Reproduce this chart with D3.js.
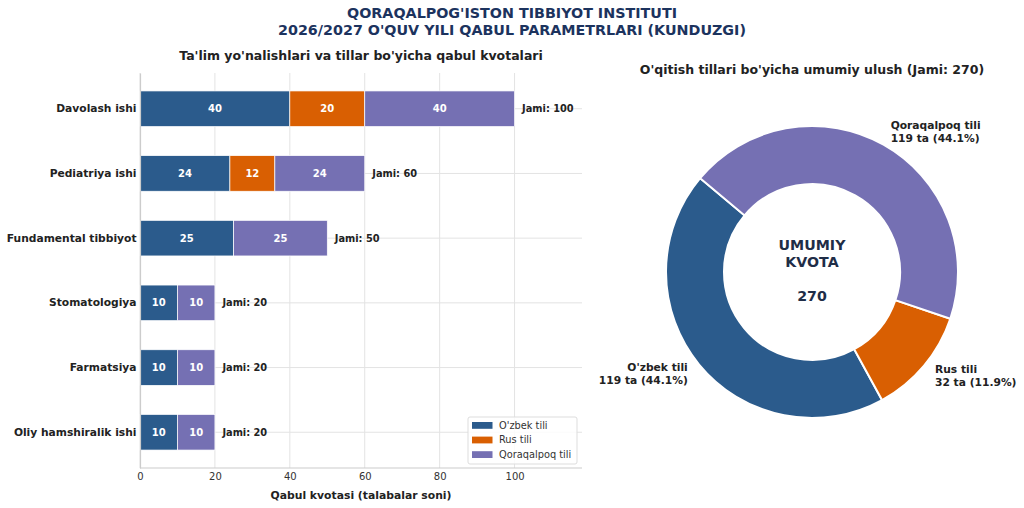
<!DOCTYPE html>
<html>
<head>
<meta charset="utf-8">
<script src="https://cdn.jsdelivr.net/npm/d3@7"></script>
<style>
  body { margin: 0; background: #fff; }
  svg { font-family: "DejaVu Sans", sans-serif; }
</style>
</head>
<body>
<figure style="margin:0"></figure>
<script>
(() => {

  ////////////////////////////////////
  ///////////// Data /////////////////
  ////////////////////////////////////

  const categories = ["Davolash ishi", "Pediatriya ishi", "Fundamental tibbiyot",
    "Stomatologiya", "Farmatsiya", "Oliy hamshiralik ishi"]
  const languages = ["O'zbek tili", "Rus tili", "Qoraqalpoq tili"]
  const uzbekValues = [40, 24, 25, 10, 10, 10]
  const russianValues = [20, 12, 0, 0, 0, 0]
  const karakalpakValues = [40, 24, 25, 10, 10, 10]
  const xTicks = [0, 20, 40, 60, 80, 100]
  const colors = ["#2b5b8c", "#d95f02", "#7570b3"]

  const svgWidth = 1024
  const svgHeight = 508

  const svg = d3.select('figure')
    .append('svg')
    .attr('width', svgWidth)
    .attr('height', svgHeight)

  // titles
  svg.append('text')
    .attr('x', 512).attr('y', 18)
    .attr('text-anchor', 'middle')
    .style('font-size', '14.3px').style('font-weight', 'bold')
    .style('fill', '#1c335e')
    .text("QORAQALPOG'ISTON TIBBIYOT INSTITUTI")
  svg.append('text')
    .attr('x', 512).attr('y', 34.5)
    .attr('text-anchor', 'middle')
    .style('font-size', '14.3px').style('font-weight', 'bold')
    .style('fill', '#1c335e')
    .text("2026/2027 O'QUV YILI QABUL PARAMETRLARI (KUNDUZGI)")

  ////////////////////////////////////
  ///////// Bar chart ////////////////
  ////////////////////////////////////

  const bar = { left: 140, right: 582, top: 73, bottom: 468 }

  const rows = categories.map((c, i) => ({
    category: c,
    [languages[0]]: uzbekValues[i],
    [languages[1]]: russianValues[i],
    [languages[2]]: karakalpakValues[i]
  }))
  const stackedData = d3.stack().keys(languages)(rows)
  const totals = categories.map((c, i) => uzbekValues[i] + russianValues[i] + karakalpakValues[i])

  const x = d3.scaleLinear().domain([0, 118]).range([bar.left, bar.right])
  const y = d3.scaleBand().domain(categories)
    .range([bar.top, bar.bottom])
    .paddingInner(0.45).paddingOuter(0.2775)
  const color = d3.scaleOrdinal().domain(languages).range(colors)

  // grid
  svg.append('g')
    .selectAll('line')
    .data(xTicks)
    .enter().append('line')
    .attr('x1', d => x(d)).attr('x2', d => x(d))
    .attr('y1', bar.top).attr('y2', bar.bottom)
    .style('stroke', '#e3e3e3').style('stroke-width', 1)
  svg.append('g')
    .selectAll('line')
    .data(categories)
    .enter().append('line')
    .attr('x1', bar.left).attr('x2', bar.right)
    .attr('y1', d => y(d) + y.bandwidth() / 2).attr('y2', d => y(d) + y.bandwidth() / 2)
    .style('stroke', '#e3e3e3').style('stroke-width', 1)

  // bars
  svg.append('g')
    .selectAll('g')
    .data(stackedData)
    .enter().append('g')
    .attr('fill', d => color(d.key))
    .selectAll('rect')
    .data(d => d.filter(s => s[1] - s[0] > 0))
    .enter().append('rect')
    .attr('x', d => x(d[0]))
    .attr('y', d => y(d.data.category))
    .attr('width', d => x(d[1]) - x(d[0]))
    .attr('height', y.bandwidth())
    .style('stroke', '#fff').style('stroke-width', 0.7)

  // value labels
  stackedData.forEach(layer => {
    svg.append('g')
      .selectAll('text')
      .data(layer.filter(s => s[1] - s[0] > 0))
      .enter().append('text')
      .attr('x', d => x((d[0] + d[1]) / 2))
      .attr('y', d => y(d.data.category) + y.bandwidth() / 2)
      .attr('dy', '0.36em')
      .attr('text-anchor', 'middle')
      .style('fill', '#fff').style('font-size', '10px').style('font-weight', 'bold')
      .text(d => d[1] - d[0])
  })

  // totals
  svg.append('g')
    .selectAll('text')
    .data(categories)
    .enter().append('text')
    .attr('x', (d, i) => x(totals[i] + 2))
    .attr('y', d => y(d) + y.bandwidth() / 2)
    .attr('dy', '0.36em')
    .style('fill', '#222').style('font-size', '9.8px').style('font-weight', 'bold')
    .text((d, i) => 'Jami: ' + totals[i])

  // axes
  const xAxis = svg.append('g')
    .attr('transform', `translate(0,${bar.bottom})`)
    .call(d3.axisBottom(x).tickValues(xTicks).tickSize(0).tickPadding(4.5))
  const yAxis = svg.append('g')
    .attr('transform', `translate(${bar.left},0)`)
    .call(d3.axisLeft(y).tickSize(0).tickPadding(3.5))
  ;[xAxis, yAxis].forEach(a => {
    a.select('.domain').style('stroke', '#cccccc').style('stroke-width', 1.2)
    a.selectAll('text').style('font-family', '"DejaVu Sans", sans-serif').style('fill', '#333')
  })
  xAxis.selectAll('text').style('font-size', '10px')
  yAxis.selectAll('text').style('font-size', '10.7px').style('font-weight', 'bold').style('fill', '#222')
  xAxis.select('.domain').attr('d', `M${bar.left},0H${bar.right}`)

  svg.append('text')
    .attr('x', (bar.left + bar.right) / 2).attr('y', 499)
    .attr('text-anchor', 'middle')
    .style('font-size', '10.8px').style('font-weight', 'bold').style('fill', '#222')
    .text('Qabul kvotasi (talabalar soni)')

  svg.append('text')
    .attr('x', (bar.left + bar.right) / 2).attr('y', 59.5)
    .attr('text-anchor', 'middle')
    .style('font-size', '12.5px').style('font-weight', 'bold').style('fill', '#222')
    .text("Ta'lim yo'nalishlari va tillar bo'yicha qabul kvotalari")

  // legend
  const legend = svg.append('g').attr('transform', 'translate(468,417)')
  legend.append('rect')
    .attr('width', 109).attr('height', 47).attr('rx', 2)
    .style('fill', '#fff').style('fill-opacity', 0.85)
    .style('stroke', '#dddddd')
  legend.selectAll('rect.key')
    .data(languages)
    .enter().append('rect')
    .attr('class', 'key')
    .attr('x', 4).attr('y', (d, i) => 5 + i * 14.6)
    .attr('width', 20.5).attr('height', 6.8)
    .style('fill', d => color(d))
  legend.selectAll('text')
    .data(languages)
    .enter().append('text')
    .attr('x', 31).attr('y', (d, i) => 8.4 + i * 14.6)
    .attr('dy', '0.35em')
    .style('font-size', '9.8px').style('fill', '#333')
    .text(d => d)

  ////////////////////////////////////
  ///////// Donut ////////////////////
  ////////////////////////////////////

  const pieTotals = [d3.sum(uzbekValues), d3.sum(russianValues), d3.sum(karakalpakValues)]
  const grand = d3.sum(pieTotals)
  const cx = 812, cy = 272, outerR = 146, innerR = 88

  // matplotlib startangle 140, counterclockwise
  const start = (90 - 140) * Math.PI / 180
  const pie = d3.pie().sort(null).startAngle(start).endAngle(start - 2 * Math.PI)
  const arcs = pie(pieTotals)
  const arc = d3.arc().innerRadius(innerR).outerRadius(outerR)

  const donut = svg.append('g').attr('transform', `translate(${cx},${cy})`)
  donut.selectAll('path')
    .data(arcs)
    .enter().append('path')
    .attr('d', arc)
    .style('fill', (d, i) => colors[i])
    .style('stroke', '#fff').style('stroke-width', 2)

  const labelR = outerR * 1.1
  const pieLabels = donut.selectAll('g.lbl')
    .data(arcs)
    .enter().append('g')
    .attr('class', 'lbl')
    .attr('transform', d => {
      const a = (d.startAngle + d.endAngle) / 2
      return `translate(${labelR * Math.sin(a)},${-labelR * Math.cos(a)})`
    })
  pieLabels.each(function (d, i) {
    const a = (d.startAngle + d.endAngle) / 2
    const anchor = Math.sin(a) < 0 ? 'end' : 'start'
    const t = d3.select(this).append('text')
      .attr('text-anchor', anchor)
      .style('font-size', '10.7px').style('font-weight', 'bold').style('fill', '#222')
    t.append('tspan').attr('x', 0).attr('y', -2.5).text(languages[i])
    t.append('tspan').attr('x', 0).attr('y', 10.5)
      .text(`${pieTotals[i]} ta (${(pieTotals[i] / grand * 100).toFixed(1)}%)`)
  })

  const center = donut.append('text')
    .attr('text-anchor', 'middle')
    .style('font-size', '14.2px').style('font-weight', 'bold').style('fill', '#1f2d47')
  center.append('tspan').attr('x', 0).attr('y', -22).text('UMUMIY')
  center.append('tspan').attr('x', 0).attr('y', -5).text('KVOTA')
  center.append('tspan').attr('x', 0).attr('y', 28.5).text(grand)

  svg.append('text')
    .attr('x', cx).attr('y', 74)
    .attr('text-anchor', 'middle')
    .style('font-size', '12.5px').style('font-weight', 'bold').style('fill', '#222')
    .text(`O'qitish tillari bo'yicha umumiy ulush (Jami: ${grand})`)

})()
</script>
</body>
</html>
